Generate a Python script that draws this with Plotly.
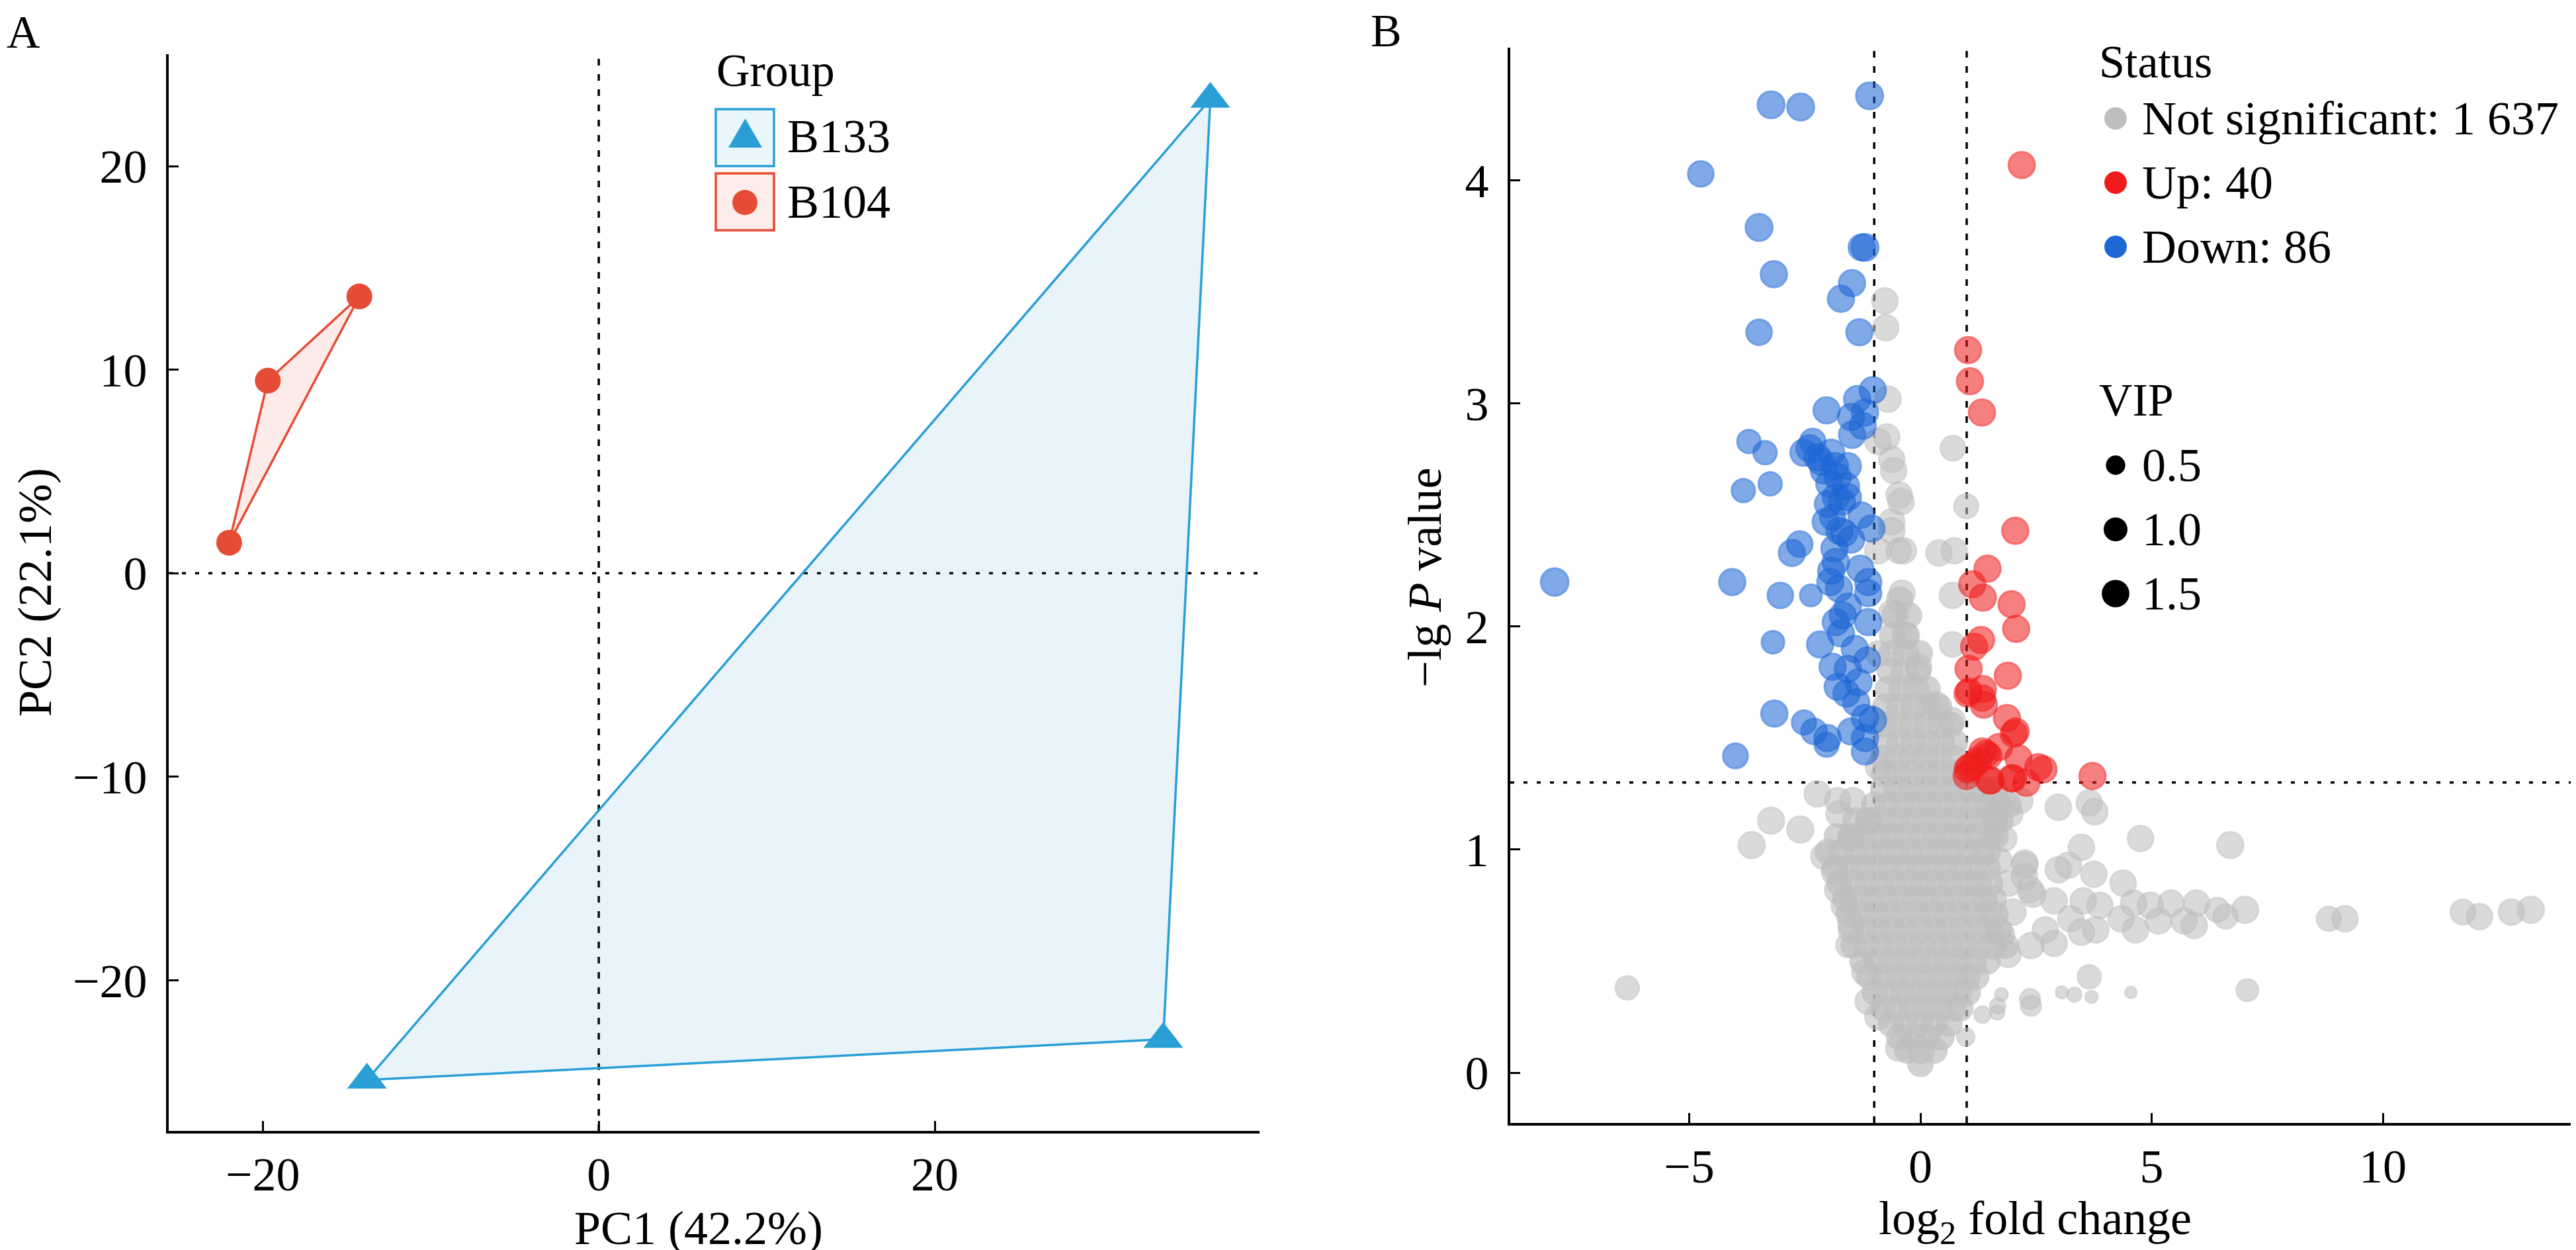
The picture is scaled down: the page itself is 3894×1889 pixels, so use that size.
import math
import plotly.graph_objects as go

W, H = 3894, 1889
FONT = "Liberation Serif"

# ---------------- panel A: PCA scores ----------------
b133_pc1 = [36.4, 33.6, -13.8]
b133_pc2 = [23.3, -22.9, -24.9]
b104_pc1 = [-22.0, -19.7, -14.25]
b104_pc2 = [1.5, 9.46, 13.6]
group_names = ["B133", "B104"]

# ---------------- panel B: volcano ----------------
fc_cut = 1.0
p_cut = 0.05

down_x = [-3.23, -2.59, -1.10, -4.75, -3.49, -1.20, -1.27, -3.17, -1.48, -1.72,
          -3.49, -1.32, -1.03, -1.37, -2.03, -1.20, -1.50, -1.48, -3.71, -3.36,
          -2.33, -2.53, -2.23, -1.93, -1.57, -2.09, -1.79, -1.61, -1.97, -3.25,
          -3.83, -1.57, -1.83, -1.28, -2.05, -1.06, -1.90, -1.50, -2.61, -2.78,
          -1.86, -1.83, -7.91, -4.07, -3.03, -2.37, -1.93, -1.13, -1.13, -1.76,
          -1.57, -1.83, -1.72, -1.13, -3.19, -2.17, -1.90, -1.57, -1.79, -1.34,
          -1.39, -1.20, -1.03, -3.16, -2.52, -2.30, -2.01, -2.03, -1.50, -1.20,
          -1.20, -4.00, -2.15, -1.85, -1.70, -2.00, -1.65, -1.95, -1.68, -1.42,
          -1.60, -1.25, -1.15, -1.75, -2.40, -1.30]
down_y = [4.34, 4.33, 4.38, 4.03, 3.79, 3.70, 3.70, 3.58, 3.54, 3.47,
          3.32, 3.32, 3.06, 3.02, 2.97, 2.96, 2.94, 2.86, 2.83, 2.78,
          2.83, 2.78, 2.76, 2.78, 2.72, 2.70, 2.67, 2.63, 2.64, 2.64,
          2.61, 2.58, 2.58, 2.50, 2.47, 2.44, 2.49, 2.39, 2.37, 2.33,
          2.35, 2.29, 2.20, 2.20, 2.14, 2.14, 2.25, 2.20, 2.15, 2.17,
          2.09, 2.02, 1.97, 2.02, 1.93, 1.92, 1.82, 1.81, 1.73, 1.75,
          1.66, 1.59, 1.58, 1.61, 1.57, 1.53, 1.50, 1.47, 1.53, 1.50,
          1.44, 1.42, 2.74, 2.72, 2.56, 2.55, 2.42, 2.20, 2.05, 1.90,
          1.70, 2.90, 1.85, 2.43, 2.80, 2.26]
down_vip = [1.7, 1.7, 1.7, 1.5, 1.7, 1.7, 1.6, 1.6, 1.6, 1.6,
            1.5, 1.6, 1.6, 1.6, 1.6, 1.6, 1.6, 1.6, 1.2, 1.2,
            1.5, 1.6, 1.6, 1.6, 1.6, 1.6, 1.6, 1.6, 1.6, 1.2,
            1.2, 1.6, 1.6, 1.5, 1.6, 1.6, 1.4, 1.6, 1.5, 1.6,
            1.6, 1.6, 1.8, 1.6, 1.5, 1.0, 1.6, 1.6, 1.6, 1.6,
            1.6, 1.6, 1.6, 1.6, 1.1, 1.6, 1.6, 1.6, 1.6, 1.6,
            1.6, 1.6, 1.6, 1.6, 1.3, 1.5, 1.6, 1.3, 1.6, 1.6,
            1.6, 1.4, 1.6, 1.6, 1.6, 1.6, 1.6, 1.6, 1.6, 1.6,
            1.6, 1.6, 1.5, 1.6, 1.6, 1.6]

up_x = [2.19, 1.03, 1.07, 1.33, 2.05, 1.45, 1.12, 1.35, 1.97, 2.07,
        1.31, 1.16, 1.04, 1.89, 1.02, 1.35, 1.37, 1.87, 2.06, 1.05,
        1.34, 2.02, 1.70, 1.34, 1.47, 1.02, 1.16, 2.12, 2.66, 1.52,
        1.97, 2.29, 3.72, 1.00, 1.06, 1.42, 1.49, 2.00, 2.55, 1.24]
up_y = [4.07, 3.24, 3.10, 2.96, 2.43, 2.26, 2.19, 2.13, 2.10, 1.99,
        1.94, 1.91, 1.81, 1.78, 1.70, 1.72, 1.65, 1.59, 1.53, 1.71,
        1.68, 1.52, 1.46, 1.44, 1.42, 1.36, 1.38, 1.41, 1.36, 1.31,
        1.32, 1.30, 1.33, 1.33, 1.37, 1.43, 1.31, 1.32, 1.37, 1.40]
up_vip = [1.6, 1.6, 1.6, 1.6, 1.6, 1.6, 1.6, 1.6, 1.6, 1.6,
          1.6, 1.6, 1.6, 1.6, 1.6, 1.6, 1.6, 1.6, 1.6, 1.5,
          1.5, 1.6, 1.6, 1.6, 1.6, 1.6, 1.6, 1.6, 1.6, 1.6,
          1.6, 1.6, 1.6, 1.6, 1.6, 1.6, 1.6, 1.6, 1.6, 1.6]

# not significant, dense core of the V (heavily overlapping points), one line per level
core_x = [0.00,
          -0.28, 0.02, 0.30,
          -0.46, -0.16, 0.14, 0.45,
          -0.64, -0.33, -0.02, 0.30, 0.62,
          -0.80, -0.50, -0.20, 0.10, 0.40, 0.70, 0.86,
          -0.98, -0.68, -0.38, -0.08, 0.22, 0.52, 0.82, 1.02,
          -1.10, -0.80, -0.50, -0.20, 0.10, 0.40, 0.70, 1.00, 1.20,
          -1.25, -0.95, -0.65, -0.35, -0.05, 0.25, 0.55, 0.85, 1.15, 1.45,
          -1.44, -1.14, -0.84, -0.54, -0.24, 0.06, 0.36, 0.66, 0.96, 1.26, 1.56, 1.84,
          -1.50, -1.20, -0.90, -0.60, -0.30, 0.00, 0.30, 0.60, 0.90, 1.20, 1.50, 1.70,
          -1.55, -1.25, -0.95, -0.65, -0.35, -0.05, 0.25, 0.55, 0.85, 1.15, 1.45, 1.62,
          -1.62, -1.32, -1.02, -0.72, -0.42, -0.12, 0.18, 0.48, 0.78, 1.08, 1.38, 1.58,
          -1.75, -1.45, -1.15, -0.85, -0.55, -0.25, 0.05, 0.35, 0.65, 0.95, 1.25, 1.50,
          -1.85, -1.55, -1.25, -0.95, -0.65, -0.35, -0.05, 0.25, 0.55, 0.85, 1.15, 1.45,
          -2.00, -1.70, -1.40, -1.10, -0.80, -0.50, -0.20, 0.10, 0.40, 0.70, 1.00, 1.30, 1.45,
          -1.80, -1.50, -1.20, -0.90, -0.60, -0.30, 0.00, 0.30, 0.60, 0.90, 1.20, 1.50, 1.62,
          -1.40, -1.10, -0.80, -0.50, -0.20, 0.10, 0.40, 0.70, 1.00, 1.30, 1.60, 1.72,
          -1.00, -0.70, -0.40, -0.10, 0.20, 0.50, 0.80, 1.10, 1.40, 1.70, 1.90,
          -0.80, -0.50, -0.20, 0.10, 0.40, 0.70, 1.00, 1.30, 1.60,
          -0.78, -0.48, -0.18, 0.12, 0.42, 0.72,
          -0.80, -0.50, -0.20, 0.10, 0.40, 0.72,
          -0.76, -0.45, -0.15, 0.15, 0.45, 0.74,
          -0.78, -0.48, -0.18, 0.12, 0.42, 0.65,
          -0.76, -0.45, -0.15, 0.15, 0.40,
          -0.70, -0.40, -0.10, 0.15,
          -0.66, -0.35, -0.05,
          -0.62, -0.32, -0.02,
          -0.60, -0.30,
          -0.55, -0.25,
          -0.45]
core_y = [0.04,
          0.10, 0.10, 0.10,
          0.16, 0.16, 0.16, 0.16,
          0.22, 0.22, 0.22, 0.22, 0.22,
          0.29, 0.29, 0.29, 0.29, 0.29, 0.29, 0.29,
          0.36, 0.36, 0.36, 0.36, 0.36, 0.36, 0.36, 0.36,
          0.43, 0.43, 0.43, 0.43, 0.43, 0.43, 0.43, 0.43, 0.43,
          0.50, 0.50, 0.50, 0.50, 0.50, 0.50, 0.50, 0.50, 0.50, 0.50,
          0.57, 0.57, 0.57, 0.57, 0.57, 0.57, 0.57, 0.57, 0.57, 0.57, 0.57, 0.57,
          0.64, 0.64, 0.64, 0.64, 0.64, 0.64, 0.64, 0.64, 0.64, 0.64, 0.64, 0.64,
          0.71, 0.71, 0.71, 0.71, 0.71, 0.71, 0.71, 0.71, 0.71, 0.71, 0.71, 0.71,
          0.78, 0.78, 0.78, 0.78, 0.78, 0.78, 0.78, 0.78, 0.78, 0.78, 0.78, 0.78,
          0.85, 0.85, 0.85, 0.85, 0.85, 0.85, 0.85, 0.85, 0.85, 0.85, 0.85, 0.85,
          0.92, 0.92, 0.92, 0.92, 0.92, 0.92, 0.92, 0.92, 0.92, 0.92, 0.92, 0.92,
          0.99, 0.99, 0.99, 0.99, 0.99, 0.99, 0.99, 0.99, 0.99, 0.99, 0.99, 0.99, 0.99,
          1.06, 1.06, 1.06, 1.06, 1.06, 1.06, 1.06, 1.06, 1.06, 1.06, 1.06, 1.06, 1.06,
          1.13, 1.13, 1.13, 1.13, 1.13, 1.13, 1.13, 1.13, 1.13, 1.13, 1.13, 1.13,
          1.20, 1.20, 1.20, 1.20, 1.20, 1.20, 1.20, 1.20, 1.20, 1.20, 1.20,
          1.27, 1.27, 1.27, 1.27, 1.27, 1.27, 1.27, 1.27, 1.27,
          1.34, 1.34, 1.34, 1.34, 1.34, 1.34,
          1.41, 1.41, 1.41, 1.41, 1.41, 1.41,
          1.48, 1.48, 1.48, 1.48, 1.48, 1.48,
          1.56, 1.56, 1.56, 1.56, 1.56, 1.56,
          1.64, 1.64, 1.64, 1.64, 1.64,
          1.72, 1.72, 1.72, 1.72,
          1.80, 1.80, 1.80,
          1.88, 1.88, 1.88,
          1.96, 1.96,
          2.05, 2.05,
          2.12]
core_vip = [1.4,
            1.4, 1.5, 1.4,
            1.4, 1.5, 1.5, 1.4,
            1.4, 1.5, 1.5, 1.5, 1.4,
            1.4, 1.5, 1.5, 1.5, 1.5, 1.5, 1.4,
            1.4, 1.5, 1.5, 1.5, 1.5, 1.5, 1.5, 1.4,
            1.4, 1.5, 1.5, 1.5, 1.5, 1.5, 1.5, 1.5, 1.4,
            1.4, 1.5, 1.5, 1.5, 1.5, 1.5, 1.5, 1.5, 1.5, 1.4,
            1.4, 1.5, 1.5, 1.5, 1.5, 1.5, 1.5, 1.5, 1.5, 1.5, 1.5, 1.4,
            1.4, 1.5, 1.5, 1.5, 1.5, 1.5, 1.5, 1.5, 1.5, 1.5, 1.5, 1.4,
            1.4, 1.5, 1.5, 1.5, 1.5, 1.5, 1.5, 1.5, 1.5, 1.5, 1.5, 1.4,
            1.4, 1.5, 1.5, 1.5, 1.5, 1.5, 1.5, 1.5, 1.5, 1.5, 1.5, 1.4,
            1.4, 1.5, 1.5, 1.5, 1.5, 1.5, 1.5, 1.5, 1.5, 1.5, 1.5, 1.4,
            1.4, 1.5, 1.5, 1.5, 1.5, 1.5, 1.5, 1.5, 1.5, 1.5, 1.5, 1.4,
            1.4, 1.5, 1.5, 1.5, 1.5, 1.5, 1.5, 1.5, 1.5, 1.5, 1.5, 1.5, 1.4,
            1.4, 1.5, 1.5, 1.5, 1.5, 1.5, 1.5, 1.5, 1.5, 1.5, 1.5, 1.5, 1.4,
            1.4, 1.5, 1.5, 1.5, 1.5, 1.5, 1.5, 1.5, 1.5, 1.5, 1.5, 1.4,
            1.4, 1.5, 1.5, 1.5, 1.5, 1.5, 1.5, 1.5, 1.5, 1.5, 1.4,
            1.4, 1.5, 1.5, 1.5, 1.5, 1.5, 1.5, 1.5, 1.4,
            1.4, 1.5, 1.5, 1.5, 1.5, 1.4,
            1.4, 1.5, 1.5, 1.5, 1.5, 1.4,
            1.4, 1.5, 1.5, 1.5, 1.5, 1.4,
            1.4, 1.5, 1.5, 1.5, 1.5, 1.4,
            1.4, 1.5, 1.5, 1.5, 1.4,
            1.4, 1.5, 1.5, 1.4,
            1.4, 1.5, 1.4,
            1.4, 1.5, 1.4,
            1.5, 1.4,
            1.5, 1.4,
            1.5]

# not significant, points standing out of the core
ns_x = [-0.77, -0.75, -0.70, -0.73, -0.92, -0.62, -0.58, 0.70, -0.46, -0.42,
        0.99, -0.62, -0.62, -0.92, -0.37, 0.40, 0.73, -0.47, -0.40, 0.69,
        -0.62, -0.33, 0.69, -0.92, -0.04, 0.33, 0.69, -0.92, -2.23, -1.79,
        -1.46, -1.76, -3.23, -2.60, -3.65, -2.09, -1.13, -1.50, -1.86, -1.79,
        -1.65, -1.50, -1.57, -1.20, -1.13, -0.92, -0.47, -6.34, 1.75, 1.67,
        2.37, 2.26, 2.37, 2.15, 1.93, 2.98, 3.65, 3.77, 4.76, 6.70,
        3.48, 2.98, 3.20, 3.75, 4.38, 2.25, 2.43, 2.89, 3.52, 3.88,
        4.61, 4.97, 5.42, 5.97, 6.42, 7.02, 6.60, 4.34, 5.15, 5.70,
        5.92, 4.65, 3.79, 3.48, 3.25, 2.89, 2.70, 2.39, 1.89, 8.83,
        9.18, 11.73, 12.09, 12.78, 13.20, 3.65, 7.07, 3.06, 3.33, 3.70,
        4.55, 2.39, 1.66, 1.34, 0.98, 1.60, 1.80, 1.70, 1.90, 2.00,
        1.75, 1.60, 2.25]
ns_y = [3.46, 3.34, 3.02, 2.85, 2.83, 2.75, 2.70, 2.80, 2.59, 2.56,
        2.54, 2.47, 2.43, 2.34, 2.34, 2.33, 2.34, 2.34, 2.15, 2.14,
        2.06, 1.96, 1.92, 1.88, 1.82, 1.65, 1.58, 1.37, 1.25, 1.22,
        1.22, 1.16, 1.13, 1.09, 1.02, 0.97, 1.13, 1.05, 0.90, 0.82,
        0.75, 0.67, 0.57, 0.45, 0.32, 0.25, 0.11, 0.38, 0.35, 0.30,
        0.33, 0.94, 0.82, 1.22, 1.16, 1.19, 1.21, 1.17, 1.05, 1.02,
        1.01, 0.91, 0.93, 0.89, 0.85, 0.88, 0.80, 0.77, 0.77, 0.75,
        0.76, 0.75, 0.76, 0.76, 0.73, 0.73, 0.70, 0.69, 0.68, 0.68,
        0.66, 0.64, 0.64, 0.63, 0.69, 0.58, 0.64, 0.57, 0.53, 0.69,
        0.69, 0.72, 0.70, 0.72, 0.73, 0.43, 0.37, 0.36, 0.35, 0.34,
        0.36, 0.30, 0.27, 0.26, 0.16, 1.25, 1.05, 0.95, 0.85, 0.72,
        0.62, 1.15, 0.93]
ns_vip = [1.5, 1.5, 1.5, 1.5, 1.5, 1.5, 1.5, 1.4, 1.5, 1.5,
          1.3, 1.5, 1.5, 1.5, 1.5, 1.5, 1.5, 1.4, 1.5, 1.5,
          1.5, 1.5, 1.4, 1.3, 1.5, 1.5, 1.4, 1.3, 1.5, 1.5,
          1.5, 1.5, 1.6, 1.6, 1.6, 1.5, 1.5, 1.5, 1.5, 1.5,
          1.5, 1.5, 1.2, 1.5, 1.5, 1.5, 1.5, 1.2, 0.1, 0.3,
          0.8, 1.5, 1.5, 1.5, 1.5, 1.5, 1.5, 1.5, 1.5, 1.6,
          1.5, 1.5, 1.5, 1.5, 1.5, 1.5, 1.5, 1.5, 1.5, 1.5,
          1.5, 1.5, 1.5, 1.5, 1.3, 1.6, 1.3, 1.5, 1.5, 1.5,
          1.5, 1.5, 1.5, 1.5, 1.5, 1.5, 1.5, 1.5, 1.5, 1.3,
          1.5, 1.4, 1.5, 1.5, 1.6, 1.2, 1.0, 0.05, 0.2, 0.05,
          0.0, 0.8, 0.2, 0.4, 0.5, 1.5, 1.5, 1.5, 1.5, 1.5,
          1.5, 1.5, 1.5]

assert len(core_x) == len(core_y) == len(core_vip), (len(core_x), len(core_y), len(core_vip))
assert len(ns_x) == len(ns_y) == len(ns_vip)
assert len(down_x) == len(down_y) == len(down_vip)
assert len(up_x) == len(up_y) == len(up_vip)

status_labels = ["Not significant: 1 637", "Up: 40", "Down: 86"]
vip_breaks = [0.5, 1.0, 1.5]

CYAN = "#2A9FD6"
CORAL = "#E64B35"
GREY = (190, 190, 190)
RED = (240, 27, 27)
BLUE = (29, 103, 214)
ALPHA = 0.8
MLW = 3


def px(x):
    return x / W


def py(y):
    return 1 - y / H


def vip_diam(v):
    # area scale, fitted to the VIP key (0.5 -> 29px, 1.0 -> 36px, 1.5 -> 42px)
    return (420 + 880 * v) ** 0.5


def rgba(c, a):
    return "rgba(%d,%d,%d,%.2f)" % (c[0], c[1], c[2], a)


fig = go.Figure()

# panel A hulls + points
fig.add_trace(go.Scatter(
    x=b133_pc1 + b133_pc1[:1], y=b133_pc2 + b133_pc2[:1],
    mode="lines", fill="toself", fillcolor="rgba(42,159,214,0.11)",
    line=dict(color=CYAN, width=3.5), xaxis="x", yaxis="y", hoverinfo="skip"))
fig.add_trace(go.Scatter(
    x=b104_pc1 + b104_pc1[:1], y=b104_pc2 + b104_pc2[:1],
    mode="lines", fill="toself", fillcolor="rgba(230,75,53,0.11)",
    line=dict(color=CORAL, width=3.5), xaxis="x", yaxis="y", hoverinfo="skip"))
fig.add_trace(go.Scatter(
    x=b133_pc1, y=b133_pc2, mode="markers", name=group_names[0],
    marker=dict(symbol="triangle-up", size=52, color=CYAN), xaxis="x", yaxis="y"))
fig.add_trace(go.Scatter(
    x=b104_pc1, y=b104_pc2, mode="markers", name=group_names[1],
    marker=dict(symbol="circle", size=39, color=CORAL), xaxis="x", yaxis="y"))

# panel B points
fig.add_trace(go.Scatter(
    x=core_x, y=core_y, mode="markers", name="Not significant",
    marker=dict(size=[vip_diam(v) for v in core_vip], color="rgb(191,191,191)",
                line=dict(width=0)),
    xaxis="x2", yaxis="y2"))
for xs, ys, vs, col, nm in [(ns_x, ns_y, ns_vip, GREY, "Not significant"),
                            (up_x, up_y, up_vip, RED, "Up"),
                            (down_x, down_y, down_vip, BLUE, "Down")]:
    fig.add_trace(go.Scatter(
        x=xs, y=ys, mode="markers", name=nm,
        marker=dict(size=[vip_diam(v) - MLW for v in vs], color=rgba(col, ALPHA),
                    line=dict(color=rgba(col, ALPHA), width=MLW)),
        xaxis="x2", yaxis="y2"))

axis_common = dict(showline=True, linecolor="black", linewidth=4, ticks="inside",
                   ticklen=15, tickwidth=3, tickcolor="black", showgrid=False,
                   zeroline=False, tickfont=dict(family=FONT, size=72, color="black"),
                   mirror=False)

shapes = []
dash_v = dict(color="black", width=3.5, dash="10px,13px")
dash_h = dict(color="black", width=3.5, dash="6px,14px")
shapes.append(dict(type="line", xref="x", yref="y domain", x0=0, x1=0, y0=0, y1=1,
                   line=dash_v, layer="below"))
shapes.append(dict(type="line", xref="x domain", yref="y", x0=0, x1=1, y0=0, y1=0,
                   line=dash_h, layer="below"))
for xv in (-fc_cut, fc_cut):
    shapes.append(dict(type="line", xref="x2", yref="y2 domain", x0=xv, x1=xv, y0=0, y1=1,
                       line=dash_v, layer="below"))
p_line = -math.log10(p_cut)
shapes.append(dict(type="line", xref="x2 domain", yref="y2", x0=0, x1=1, y0=p_line, y1=p_line,
                   line=dash_h, layer="below"))

# legend A boxes and keys
for top, col, fill in [(157, CYAN, "#E9F6FC"), (254, CORAL, "#FCEDEA")]:
    shapes.append(dict(type="rect", xref="paper", yref="paper",
                       x0=px(1074), x1=px(1162), y0=py(top + 86), y1=py(top),
                       line=dict(color=col, width=3.5), fillcolor=fill))
shapes.append(dict(type="path", xref="paper", yref="paper", xsizemode="pixel",
                   ysizemode="pixel", xanchor=px(1118.5), yanchor=py(193),
                   path="M-25.5,-22 L25.5,-22 L0,22 Z", fillcolor=CYAN,
                   line=dict(width=0)))
shapes.append(dict(type="circle", xref="paper", yref="paper", xsizemode="pixel",
                   ysizemode="pixel", xanchor=px(1118), yanchor=py(298),
                   x0=-19, x1=19, y0=-19, y1=19, fillcolor=CORAL, line=dict(width=0)))

# legend B keys
for yc, col in zip([171, 268, 365], [GREY, RED, BLUE]):
    shapes.append(dict(type="circle", xref="paper", yref="paper", xsizemode="pixel",
                       ysizemode="pixel", xanchor=px(3190), yanchor=py(yc),
                       x0=-17, x1=17, y0=-17, y1=17, fillcolor=rgba(col, 1),
                       line=dict(width=0)))
for yc, v in zip([695, 792, 889], vip_breaks):
    r = vip_diam(v) / 2
    shapes.append(dict(type="circle", xref="paper", yref="paper", xsizemode="pixel",
                       ysizemode="pixel", xanchor=px(3190), yanchor=py(yc),
                       x0=-r, x1=r, y0=-r, y1=r, fillcolor="black", line=dict(width=0)))


def txt(x, y, s, size=72, xanchor="left", angle=0):
    return dict(x=px(x), y=py(y), xref="paper", yref="paper", text=s, showarrow=False,
                xanchor=xanchor, yanchor="middle", textangle=angle,
                font=dict(family=FONT, size=size, color="black"))


annotations = [
    txt(0, 40, "A", 70),
    txt(2062, 38, "B", 70),
    txt(1073, 98, "Group", 70),
    txt(1180, 198, group_names[0]),
    txt(1180, 297, group_names[1]),
    txt(1048, 1848, "PC1 (42.2%)", xanchor="center"),
    txt(45, 887, "PC2 (22.1%)", xanchor="center", angle=-90),
    txt(3068, 1838, "log<sub>2</sub> fold change", xanchor="center"),
    txt(2146, 865, "\u2212lg <i>P</i> value", xanchor="center", angle=-90),
    txt(3163, 85, "Status", 70),
    txt(3163, 596, "VIP", 70),
]
for yc, s in zip([171, 268, 365], status_labels):
    annotations.append(txt(3228, yc, s))
for yc, v in zip([695, 792, 889], vip_breaks):
    annotations.append(txt(3228, yc, "%.1f" % v))

fig.update_layout(
    width=W, height=H, margin=dict(l=0, r=0, t=0, b=0),
    paper_bgcolor="white", plot_bgcolor="white", showlegend=False,
    font=dict(family=FONT, size=72, color="black"),
    xaxis=dict(axis_common, domain=[px(247), px(1896)], range=[-25.6, 39.33],
               tickvals=[-20, 0, 20], anchor="y", ticklabelstandoff=0),
    yaxis=dict(axis_common, domain=[py(1701), py(74)], range=[-27.4, 25.5],
               tickvals=[-20, -10, 0, 10, 20], anchor="x", ticklabelstandoff=14),
    xaxis2=dict(axis_common, domain=[px(2275), 1.0], range=[-8.87, 14.29],
                tickvals=[-5, 0, 5, 10], anchor="y2", ticklabelstandoff=0),
    yaxis2=dict(axis_common, domain=[py(1689), py(64)], range=[-0.2255, 4.596],
                tickvals=[0, 1, 2, 3, 4], anchor="x2", ticklabelstandoff=14),
    shapes=shapes, annotations=annotations,
)

fig.write_html("out.html")
